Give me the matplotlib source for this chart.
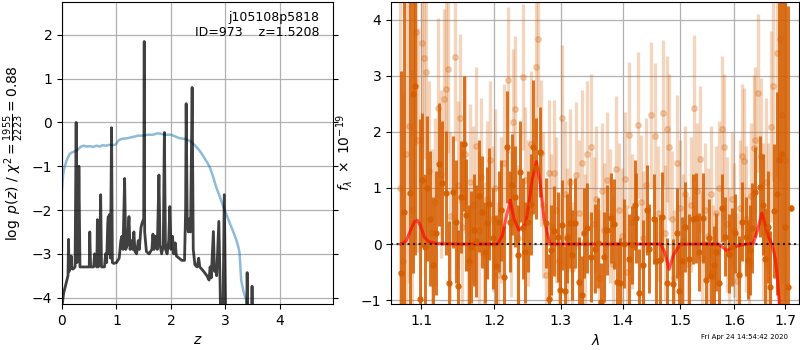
import matplotlib
matplotlib.use('Agg')
import matplotlib.pyplot as plt
from matplotlib.ticker import NullLocator

# ---- left panel: p(z) ----
pz_z = [0.00, 0.03, 0.07, 0.10, 0.11, 0.12, 0.13, 0.14, 0.15, 0.17, 0.18, 0.20, 0.24, 0.26, 0.275,
        0.28, 0.29, 0.30, 0.31, 0.33, 0.40, 0.45, 0.50, 0.51, 0.525, 0.58, 0.60, 0.61, 0.64, 0.65,
        0.665, 0.69, 0.71, 0.725, 0.78, 0.80, 0.82, 0.84, 0.85, 0.86, 0.875, 0.89, 0.91, 0.925, 0.95,
        1.00, 1.05, 1.08, 1.10, 1.12, 1.15, 1.17, 1.20, 1.23, 1.25, 1.28, 1.30, 1.32, 1.34, 1.37,
        1.40, 1.42, 1.45, 1.47, 1.50, 1.51, 1.518, 1.55, 1.60, 1.65, 1.67, 1.69, 1.72, 1.75, 1.78,
        1.80, 1.83, 1.86, 1.88, 1.90, 1.93, 1.96, 1.98, 2.00, 2.03, 2.05, 2.08, 2.10, 2.15, 2.20,
        2.25, 2.27, 2.28, 2.30, 2.32, 2.34, 2.36, 2.39, 2.41, 2.44, 2.48, 2.51, 2.53, 2.60, 2.66,
        2.70, 2.72, 2.74, 2.78, 2.80, 2.82, 2.84, 2.88, 2.90, 2.92, 2.95, 2.98, 3.01, 3.38, 3.40,
        3.42, 3.47, 3.49, 3.51, 3.60]
pz_log = [-4.2, -3.9, -3.7, -3.55, -3.5, -2.67, -3.4, -3.1, -3.35, -3.05, -3.3, -3.35, -3.3, 0.0, -3.2,
          -3.0, -1.0, -2.5, -1.0, -3.3, -3.3, -3.3, -3.3, -2.5, -3.3, -3.3, -3.0, -3.25, -3.3, -2.22,
          -3.3, -3.2, -1.65, -3.3, -3.3, -3.0, -3.2, -2.3, -2.15, -3.0, -2.1, -3.1, -0.12, -3.2, -3.22,
          -3.2, -3.1, -2.7, -2.6, -2.9, -1.28, -2.9, -2.8, -2.15, -2.9, -2.7, -2.9, -2.5, -2.95, -3.0,
          -2.7, -2.9, -2.4, -2.3, -2.2, 1.85, -2.5, -2.95, -3.0, -2.9, -2.55, -2.9, -2.6, -2.9, -1.2,
          -2.8, -3.0, -2.8, -0.23, -2.9, -3.0, -2.7, -1.92, -2.9, -2.6, -3.0, -2.75, -3.05, -3.1, -3.15,
          -3.15, -2.0, 0.43, -2.3, -2.5, -2.2, -2.5, 0.80, -2.9, -3.25, -3.3, -3.1, -3.3, -3.4, -3.5,
          -3.6, -3.3, -3.55, -2.49, -3.4, -3.3, -3.5, -2.26, -3.5, -5.0, -5.0, -1.65, -5.0, -5.5, -3.43,
          -5.0, -5.0, -3.74, -5.0, -6.0]

prior_z = [0.00, 0.02, 0.05, 0.09, 0.14, 0.19, 0.23, 0.28, 0.35, 0.40, 0.45, 0.52, 0.57, 0.63, 0.69,
           0.75, 0.81, 0.87, 0.94, 0.99, 1.03, 1.08, 1.12, 1.20, 1.30, 1.40, 1.49, 1.58, 1.67, 1.75,
           1.79, 1.85, 1.92, 2.00, 2.04, 2.10, 2.16, 2.22, 2.28, 2.37, 2.42, 2.47, 2.53, 2.59, 2.65,
           2.71, 2.77, 2.83, 2.90, 2.96, 3.02, 3.08, 3.14, 3.20, 3.24, 3.26, 3.29, 3.33, 3.38, 3.42]
prior_log = [-1.54, -1.2, -1.0, -0.85, -0.72, -0.68, -0.66, -0.63, -0.55, -0.53, -0.55, -0.54, -0.56,
             -0.53, -0.55, -0.52, -0.53, -0.51, -0.52, -0.50, -0.42, -0.38, -0.37, -0.36, -0.33, -0.30,
             -0.30, -0.28, -0.28, -0.25, -0.25, -0.27, -0.28, -0.28, -0.30, -0.33, -0.36, -0.37, -0.38,
             -0.44, -0.50, -0.56, -0.65, -0.76, -0.88, -1.01, -1.22, -1.47, -1.70, -1.92, -2.10, -2.30,
             -2.48, -2.68, -2.85, -2.98, -3.60, -3.85, -4.05, -4.30]

# ---- right panel: spectrum ----
dark_wave = [1.074, 1.077, 1.0845, 1.0885, 1.092, 1.0985, 1.101, 1.105, 1.108, 1.112, 1.116, 1.120,
             1.123, 1.128, 1.133, 1.137, 1.142, 1.146, 1.149, 1.153, 1.157, 1.161, 1.164, 1.167,
             1.171, 1.175, 1.179, 1.183, 1.187, 1.190, 1.193, 1.198, 1.203, 1.207, 1.210, 1.214,
             1.219, 1.223, 1.226, 1.231, 1.235, 1.238, 1.242, 1.246, 1.250, 1.255, 1.258, 1.262,
             1.268, 1.2766, 1.2813, 1.2844, 1.2896, 1.2948, 1.2983, 1.302, 1.306, 1.310, 1.3137,
             1.318, 1.3215, 1.329, 1.3327, 1.337, 1.342, 1.3475, 1.354, 1.3595, 1.364, 1.3695,
             1.374, 1.381, 1.3855, 1.391, 1.395, 1.402, 1.410, 1.4155, 1.4205, 1.422, 1.428, 1.435,
             1.441, 1.445, 1.4525, 1.457, 1.463, 1.468, 1.4755, 1.486, 1.4945, 1.4975, 1.5035, 1.509,
             1.515, 1.5225, 1.5273, 1.5333, 1.541, 1.547, 1.552, 1.556, 1.561, 1.566, 1.5705, 1.577,
             1.583, 1.5895, 1.596, 1.602, 1.6085, 1.615, 1.6215, 1.626, 1.631, 1.634, 1.6405, 1.650,
             1.655, 1.660, 1.665, 1.670, 1.677, 1.684, 1.688, 1.693, 1.699, 1.705, 1.712]
dark_flux = [-0.52, 0.58, 0.91, 2.68, 2.81, -0.97, 1.14, -0.05, 0.99, 0.45, -0.37, 0.20,
             1.42, 1.09, 0.91, -0.69, 0.93, 0.40, -0.75, 0.84, 1.79, 0.52, -0.30, -0.05,
             0.25, 0.05, 0.85, 0.57, -0.15, 0.38, 0.72, 0.10, -0.39, 0.40, 0.60, -0.58,
             1.73, 0.40, 1.06, 0.84, -0.20, 1.29, 0.28, -0.15, 0.40, 0.71, 1.73, 1.35,
             1.64, 0.37, -0.97, -0.10, 0.23, 0.13, -0.82, 0.34, -0.84, 0.10, 0.38,
             -0.20, 0.38, -0.67, -0.91, 0.19, 0.28, -0.23, -0.08, 0.02, -1.04, -0.23,
             0.25, 0.46, 0.36, -0.67, -0.70, 0.01, -0.26, -0.02, 0.69, 0.46, -0.88, -0.37,
             0.61, -0.08, 0.44, -0.31, -0.28, 0.49, -0.70, -0.71, 0.19, -0.84, -0.31, 0.30,
             -0.26, 0.45, 0.46, -0.14, 0.46, -0.64, 0.10, -0.57, -0.37, -0.14, -0.70, 0.64,
             0.13, -0.17, -0.05, 0.19, -0.55, 0.40, 0.13, -0.28, -0.11, 0.29, 0.93, 1.02,
             0.70, -0.26, 0.30, -0.76, 0.59, 0.90, 1.50, 1.60, 0.30, -0.76, 0.64]
dark_err = [3.6, 3.8, 3.6, 3.2, 3.0, 3.2, 1.2, 1.3, 1.3, 1.2, 1.2, 1.1,
            1.1, 1.1, 1.1, 1.1, 1.0, 1.1, 1.0, 1.0, 1.2, 1.0, 1.0, 1.0,
            1.0, 1.0, 1.0, 1.0, 0.9, 1.0, 1.0, 0.9, 0.9, 0.9, 0.9, 0.9,
            1.0, 0.9, 0.9, 0.9, 0.9, 0.9, 0.9, 0.9, 0.9, 0.9, 1.2, 0.9,
            0.8, 0.8, 0.8, 0.8, 0.8, 0.8, 0.8, 0.8, 0.8, 0.8, 0.8,
            0.8, 0.8, 0.8, 0.7, 0.8, 0.8, 0.8, 0.8, 0.8, 0.7, 0.8,
            0.8, 0.8, 0.8, 0.7, 0.8, 0.8, 0.8, 0.7, 0.8, 0.8, 0.8, 0.8,
            0.8, 0.8, 0.8, 0.8, 0.8, 0.8, 0.8, 0.8, 0.8, 0.8, 0.8, 0.8,
            0.8, 0.8, 0.8, 0.7, 0.8, 0.7, 0.7, 0.6, 0.7, 0.7, 0.7, 0.6,
            0.7, 0.7, 0.7, 0.7, 0.7, 0.7, 0.7, 0.7, 0.8, 0.8, 0.8, 0.9,
            0.9, 0.9, 1.0, 1.0, 1.2, 1.8, 3.5, 3.5, 4.5, 5.0, 0.05]

light_wave = [1.072, 1.076, 1.080, 1.084, 1.088, 1.0925, 1.096, 1.1005, 1.103, 1.106, 1.110, 1.114,
              1.118, 1.1225, 1.126, 1.130, 1.133, 1.1355, 1.139, 1.1455, 1.149, 1.1517, 1.155,
              1.159, 1.163, 1.166, 1.170, 1.174, 1.178, 1.182, 1.186, 1.190, 1.194, 1.198, 1.202,
              1.206, 1.210, 1.214, 1.2205, 1.224, 1.2275, 1.231, 1.2355, 1.2425, 1.246, 1.250,
              1.254, 1.2615, 1.265, 1.269, 1.273, 1.277, 1.281, 1.285, 1.289, 1.293, 1.297, 1.302,
              1.306, 1.310, 1.314, 1.318, 1.3244, 1.329, 1.333, 1.338, 1.342, 1.3475, 1.352, 1.356,
              1.360, 1.365, 1.369, 1.373, 1.378, 1.383, 1.3888, 1.393, 1.398, 1.4035, 1.407, 1.411,
              1.416, 1.4255, 1.430, 1.435, 1.440, 1.4483, 1.4553, 1.460, 1.4683, 1.472, 1.476,
              1.480, 1.484, 1.489, 1.4945, 1.499, 1.504, 1.509, 1.514, 1.519, 1.5245, 1.530, 1.535,
              1.540, 1.545, 1.550, 1.555, 1.560, 1.566, 1.571, 1.577, 1.580, 1.585, 1.590, 1.595,
              1.600, 1.605, 1.610, 1.615, 1.618, 1.623, 1.628, 1.633, 1.637, 1.640, 1.6465, 1.651,
              1.656, 1.661, 1.666, 1.671, 1.676, 1.6845, 1.689, 1.694, 1.699]
light_flux = [1.0, -0.3, 1.6, 2.1, 0.6, 3.77, 1.85, 3.59, 3.32, 3.07, 1.30, 0.20,
              0.75, 2.42, 1.25, 2.58, 2.76, 3.12, 0.50, 3.33, 1.05, 2.24, 0.30,
              1.60, -0.40, 1.10, 0.70, 1.75, 0.25, 1.20, -0.20, 0.80, 1.50, 0.45, 1.00,
              -0.55, 0.60, 1.45, 2.93, 0.35, 2.17, 2.41, 0.10, 2.97, 1.15, 0.55,
              1.79, 3.16, 3.65, 1.63, 0.70, -0.55, 1.26, 0.30, 1.26, 0.60, -0.30, 2.24,
              0.90, 0.15, 1.10, -0.45, 1.23, 0.55, 1.45, 0.05, 1.61, 1.73, 0.35, 0.80,
              -0.60, 0.95, 0.25, 1.15, 0.50, -0.35, 1.33, 0.60, 0.15, 1.16, -0.50, 1.95,
              0.40, 2.12, 0.75, 0.10, 1.05, 2.30, 1.92, 0.55, 2.33, 0.20, 2.05,
              1.73, 0.45, -0.60, 1.45, 0.65, 0.05, 0.90, -0.35, 0.70, 2.43, 0.95, 1.51,
              -0.25, 0.60, 0.15, 0.90, -0.50, 0.55, 1.00, 2.05, 1.73, 0.35, -0.20, 0.80,
              0.25, -0.65, 0.65, 1.56, 1.48, 0.45, -0.30, 0.85, 1.71, 1.85, 2.69, 1.56,
              0.40, 1.10, 0.20, 2.09, 2.82, 3.40, 3.65, 2.30, 1.50]
light_err = [3.5, 3.0, 3.0, 2.8, 2.5, 2.0, 2.0, 1.8, 1.8, 1.8, 1.6, 1.5,
             1.5, 1.6, 1.5, 1.6, 1.6, 1.5, 1.5, 1.5, 1.5, 1.5, 1.4,
             1.4, 1.4, 1.4, 1.4, 1.4, 1.4, 1.4, 1.3, 1.4, 1.4, 1.3, 1.4,
             1.3, 1.3, 1.4, 1.3, 1.3, 1.3, 1.3, 1.3, 1.3, 1.3, 1.3,
             1.3, 1.3, 1.2, 1.3, 1.3, 1.2, 1.3, 1.3, 1.3, 1.3, 1.2, 1.3,
             1.3, 1.2, 1.3, 1.2, 1.3, 1.3, 1.3, 1.2, 1.3, 1.3, 1.2, 1.3,
             1.2, 1.2, 1.2, 1.2, 1.2, 1.2, 1.3, 1.2, 1.2, 1.2, 1.2, 1.3,
             1.2, 1.3, 1.2, 1.2, 1.2, 1.3, 1.3, 1.2, 1.3, 1.2, 1.3,
             1.3, 1.2, 1.2, 1.2, 1.2, 1.2, 1.2, 1.2, 1.2, 1.3, 1.2, 1.3,
             1.2, 1.2, 1.2, 1.2, 1.2, 1.2, 1.2, 1.3, 1.3, 1.2, 1.2, 1.2,
             1.2, 1.2, 1.2, 1.3, 1.3, 1.3, 1.3, 1.3, 1.3, 1.3, 1.4, 1.4,
             1.4, 1.5, 1.6, 1.7, 1.7, 2.2, 2.5, 3.0, 3.5]

model_wave = [1.073, 1.080, 1.086, 1.091, 1.095, 1.099, 1.104, 1.110, 1.120, 1.150, 1.180, 1.205,
              1.212, 1.218, 1.2235, 1.229, 1.236, 1.241, 1.246, 1.251, 1.256, 1.2625, 1.268,
              1.274, 1.283, 1.320, 1.380, 1.440, 1.465, 1.472, 1.4797, 1.487, 1.4995, 1.540,
              1.570, 1.578, 1.5854, 1.592, 1.600, 1.612, 1.625, 1.637, 1.645, 1.6533, 1.660,
              1.667, 1.6735, 1.680, 1.684, 1.687, 1.690]
model_flux = [0.0, 0.05, 0.25, 0.40, 0.42, 0.32, 0.12, 0.04, 0.01, 0.0, 0.0, 0.0,
              0.15, 0.50, 0.78, 0.45, 0.25, 0.30, 0.35, 0.70, 1.15, 1.47, 1.10,
              0.45, 0.0, 0.0, 0.0, 0.0, 0.0, -0.15, -0.45, -0.20, 0.0, 0.0,
              0.0, -0.06, -0.12, -0.08, -0.05, -0.02, 0.0, 0.02, 0.25, 0.55, 0.35,
              0.12, 0.0, -0.25, -0.55, -0.90, -1.30]

grism_color = (0.835, 0.369, 0.0)

fig = plt.figure(figsize=(8, 3.5), dpi=100)

# p(z)
ax = fig.add_axes([0.0775, 0.131, 0.339, 0.863])
ax.plot(prior_z, prior_log, color='tab:blue', alpha=0.5, lw=1.8)
ax.plot(pz_z, pz_log, color='k', alpha=0.75, lw=2)
ax.set_xlim(0, 4.98)
ax.set_ylim(-4.15, 2.75)
ax.set_xticks([0, 1, 2, 3, 4])
ax.set_yticks([-4, -3, -2, -1, 0, 1, 2])
ax.yaxis.set_ticks_position('both')
ax.grid(True, color='#b0b0b0', lw=0.9)
ax.set_xlabel(r'$z$', fontsize=10)
ax.set_ylabel(r'$\log\ p(z)$ / $\chi^2=\frac{1955}{2223}=0.88$', fontsize=10)
ax.text(0.948, 0.972, 'j105108p5818\nID=973    z=1.5208', ha='right', va='top',
        transform=ax.transAxes, fontsize=9)

# spectrum
ax = fig.add_axes([0.489, 0.131, 0.51, 0.863])
ax.errorbar(light_wave, light_flux, light_err, color=grism_color, alpha=0.25, marker='o',
            ms=4, linestyle='None', elinewidth=2.4)
ax.errorbar(dark_wave, dark_flux, dark_err, color=grism_color, alpha=0.85, marker='o',
            ms=3.6, linestyle='None', elinewidth=2.2)
ax.plot(model_wave, model_flux, color='r', alpha=0.65, lw=2.2)
ax.axhline(0, color='k', linestyle=':', lw=1.5, alpha=0.8)
ax.set_xscale('log')
ax.set_xlim(1.061, 1.729)
ax.set_ylim(-1.07, 4.31)
xt = [1.1, 1.2, 1.3, 1.4, 1.5, 1.6, 1.7]
ax.set_xticks(xt)
ax.set_xticklabels(['{:.1f}'.format(x) for x in xt])
ax.xaxis.set_minor_locator(NullLocator())
ax.set_yticks([-1, 0, 1, 2, 3, 4])
ax.grid(True, color='#b0b0b0', lw=0.9)
ax.set_xlabel(r'$\lambda$', fontsize=10)
ax.set_ylabel(r'$f_\lambda\ \times\ 10^{-19}$', fontsize=10)

fig.text(0.985, 0.03, 'Fri Apr 24 14:54:42 2020', ha='right', va='bottom', fontsize=5)

fig.savefig('out.png', dpi=100)
